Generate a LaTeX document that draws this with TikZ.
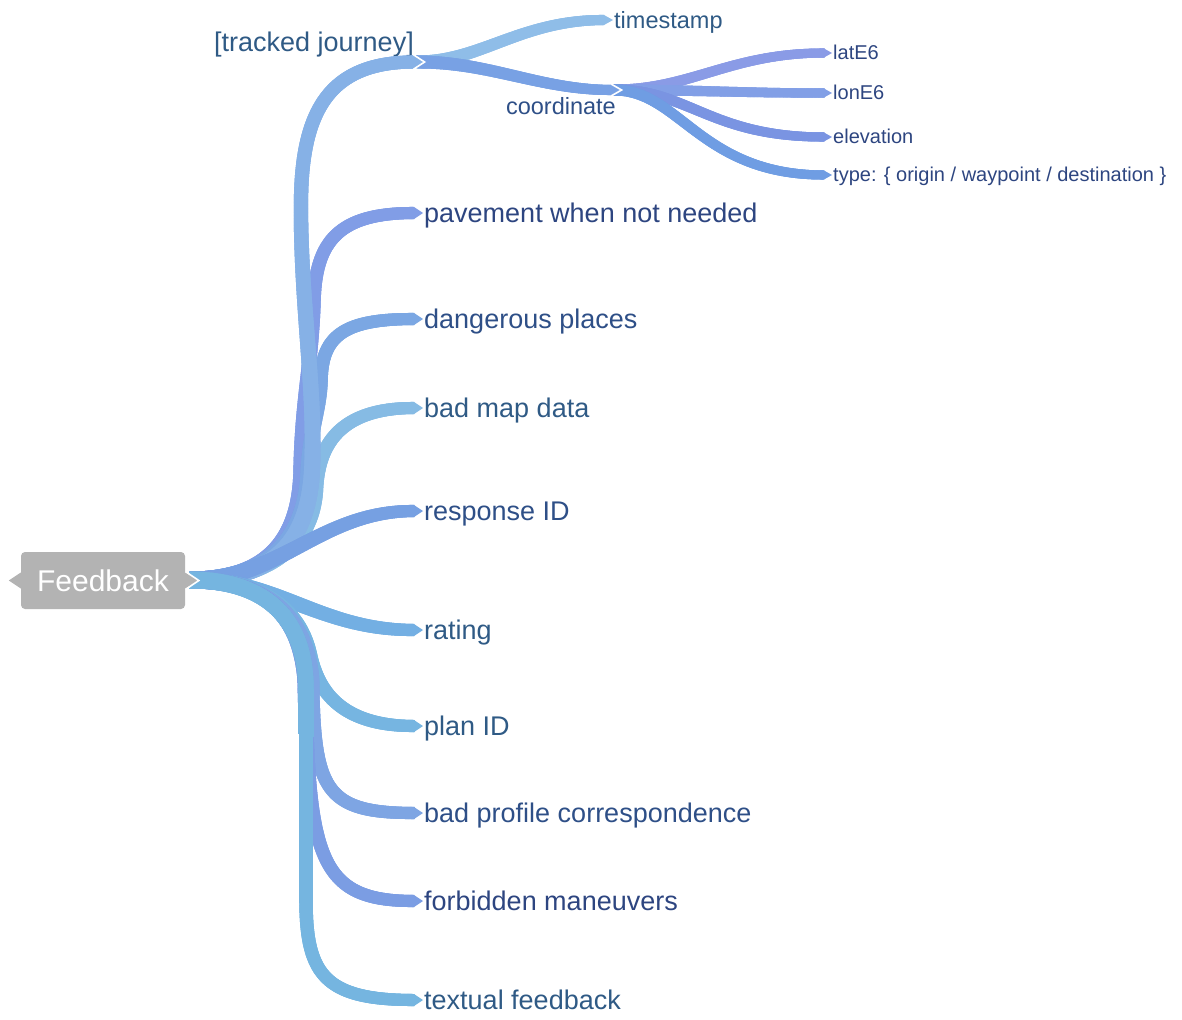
\documentclass[tikz,border=0pt]{standalone}
\usepackage{fontspec}
\setmainfont{Liberation Sans}
\usetikzlibrary{decorations.markings}
\definecolor{cFB}{HTML}{B3B3B3}
\definecolor{cTJ}{HTML}{86B1E6}
\definecolor{cPV}{HTML}{819DE6}
\definecolor{cDP}{HTML}{7BA7E3}
\definecolor{cBM}{HTML}{86BBE4}
\definecolor{cRI}{HTML}{76A0E2}
\definecolor{cRT}{HTML}{73AFE3}
\definecolor{cPI}{HTML}{76B5E1}
\definecolor{cBP}{HTML}{7EA5E3}
\definecolor{cFM}{HTML}{7B9DE3}
\definecolor{cTF}{HTML}{75B5E0}
\definecolor{cTS}{HTML}{8FBDE8}
\definecolor{cCO}{HTML}{78A1E4}
\definecolor{cLA}{HTML}{8A9BE6}
\definecolor{cLO}{HTML}{829FE6}
\definecolor{cEL}{HTML}{7A94E2}
\definecolor{cTY}{HTML}{6F9DE3}
\definecolor{tNavy}{HTML}{2D4580}
\definecolor{tBlue}{HTML}{2E4F87}
\definecolor{tTeal}{HTML}{2F5A85}
\tikzset{
  band/.style n args={3}{draw=#1, line width=#3pt,
    postaction={decorate, decoration={markings,
      mark=between positions 0 and 1 step 0.8pt with {%
        \pgfmathsetmacro\bhw{(#2+(#3-#2)*\pgfkeysvalueof{/pgf/decoration/mark info/distance from start}/\pgfdecoratedpathlength)/2}%
        \fill[#1] (-1pt,-\bhw pt) rectangle (1pt,\bhw pt);}}}},
  lab/.style={anchor=west, inner sep=0pt, font=\fontsize{27}{32}\selectfont, text height=23.7pt, text depth=5.7pt},
  sublab/.style={inner sep=0pt, font=\fontsize{23.5}{28}\selectfont, text height=21.2pt, text depth=4.9pt},
  leaflab/.style={anchor=west, inner sep=0pt, font=\fontsize{20}{24}\selectfont, text height=16.6pt, text depth=4.2pt, text=tNavy},
  fbox/.style={fill=cFB, rounded corners=4pt, minimum width=164pt, minimum height=57pt, inner sep=0pt, text=white, font=\fontsize{30}{36}\selectfont}
}
% tip: colour, apex anchor, length, half width
\newcommand\bandtip[4]{\fill[#1] ([shift={(-#3,-#4)}]#2) -- ([xshift=-1pt]#2) -- ([shift={(-#3,#4)}]#2) -- cycle;}
\newcommand\jointip[4]{\fill[#1] ([shift={(-#3,-#4)}]#2) -- (#2) -- ([shift={(-#3,#4)}]#2) -- cycle;
  \draw[white, line width=1.6pt] ([shift={(-#3-0.6,-#4-0.8)}]#2) -- ([xshift=0.6pt]#2) -- ([shift={(-#3-0.6,#4+0.8)}]#2);}
\begin{document}
\begin{tikzpicture}[x=1pt,y=-1pt]
\useasboundingbox (0,0) rectangle (1182,1019);
% labels
\node[lab, text=tNavy] (pave) at (424,213) {pavement when not needed};
\node[lab, text=tBlue] (dang) at (424,319) {dangerous places};
\node[lab, text=tTeal] (bmap) at (424,408) {bad map data};
\node[lab, text=tBlue] (resp) at (424,511) {response ID};
\node[lab, text=tTeal] (rate) at (424,630) {rating};
\node[lab, text=tTeal] (plan) at (424,726) {plan ID};
\node[lab, text=tBlue] (bprof) at (424,813) {bad profile correspondence};
\node[lab, text=tNavy] (forb) at (424,901) {forbidden maneuvers};
\node[lab, text=tTeal] (text) at (424,1000) {textual feedback};
\node[lab, anchor=base east, text=tTeal] (tjl) at (414,52) {[tracked journey]};
\node[sublab, anchor=west, text=tTeal] (ts) at (614,20) {timestamp};
\node[sublab, anchor=base east, text=tBlue] (col) at (616,115) {coordinate};
\node[leaflab] (lat) at (833,53) {latE6};
\node[leaflab] (lon) at (833,93) {lonE6};
\node[leaflab] (ele) at (833,137) {elevation};
\node[leaflab] (typ) at (833,175) {type: \{ origin / waypoint / destination \}};
% junction points
\coordinate (root) at (190,580);
\coordinate (tj) at (424,62);
\coordinate (tjs) at (417,62);
\coordinate (cj) at (621,90);
\coordinate (cjs) at (614,90);
% coordinate leaves
\path[band={cLA}{11}{9}] (cjs) .. controls (690,90) and (730,53) .. ([xshift=-9pt]lat.west);
\path[band={cLO}{11}{9}] (cjs) .. controls (700,90) and (740,93) .. ([xshift=-9pt]lon.west);
\path[band={cEL}{11}{9}] (cjs) .. controls (690,90) and (710,137) .. ([xshift=-9pt]ele.west);
\path[band={cTY}{11}{9}] (cjs) .. controls (680,90) and (700,175) .. ([xshift=-9pt]typ.west);
\bandtip{cLA}{lat.west}{9}{4.5}
\bandtip{cLO}{lon.west}{9}{4.5}
\bandtip{cEL}{ele.west}{9}{4.5}
\bandtip{cTY}{typ.west}{9}{4.5}
% tracked journey children
\path[band={cTS}{13}{10}] (tjs) .. controls (480,62) and (520,20) .. ([xshift=-10pt]ts.west);
\bandtip{cTS}{ts.west}{10}{5}
\path[band={cCO}{13}{10}] (tjs) .. controls (490,62) and (540,90) .. ([xshift=-9pt]cj);
\jointip{cCO}{cj}{9}{5}
% main branches
\path[band={cPV}{17}{12}] (root) .. controls (262,580) and (300,545) .. (301,470) .. controls (302,400) and (312,360) .. (314,300) .. controls (316,240) and (340,213) .. ([xshift=-10pt]pave.west);
\path[band={cDP}{17}{12}] (root) .. controls (262,580) and (306,545) .. (308,470) .. controls (310,430) and (320,410) .. (321,380) .. controls (322,335) and (345,319) .. ([xshift=-10pt]dang.west);
\path[band={cBM}{17}{12}] (root) .. controls (262,580) and (312,550) .. (316,490) .. controls (318,450) and (335,408) .. ([xshift=-10pt]bmap.west);
\path[band={cTJ}{17}{13}] (root) .. controls (265,580) and (308,550) .. (312,470) .. controls (316,390) and (300,300) .. (301,200) .. controls (302,110) and (330,62) .. ([xshift=-10pt]tj);
\path[band={cRI}{17}{12}] (root) .. controls (280,580) and (320,511) .. ([xshift=-10pt]resp.west);
\path[band={cRT}{17}{12}] (root) .. controls (280,580) and (320,630) .. ([xshift=-10pt]rate.west);
\path[band={cPI}{17}{12}] (root) .. controls (262,580) and (300,610) .. (310,655) .. controls (318,690) and (340,726) .. ([xshift=-10pt]plan.west);
\path[band={cBP}{17}{12}] (root) .. controls (262,580) and (306,612) .. (312,680) .. controls (314,790) and (325,813) .. ([xshift=-10pt]bprof.west);
\path[band={cFM}{17}{12}] (root) .. controls (262,580) and (300,612) .. (305,680) .. controls (308,860) and (320,901) .. ([xshift=-10pt]forb.west);
\path[band={cTF}{17}{12}] (root) .. controls (262,580) and (306,615) .. (306,690) -- (306,900) .. controls (306,975) and (325,1000) .. ([xshift=-10pt]text.west);
\bandtip{cPV}{pave.west}{10}{6}
\bandtip{cDP}{dang.west}{10}{6}
\bandtip{cBM}{bmap.west}{10}{6}
\bandtip{cRI}{resp.west}{10}{6}
\bandtip{cRT}{rate.west}{10}{6}
\bandtip{cPI}{plan.west}{10}{6}
\bandtip{cBP}{bprof.west}{10}{6}
\bandtip{cFM}{forb.west}{10}{6}
\bandtip{cTF}{text.west}{10}{6}
\jointip{cTJ}{tj}{10}{6.5}
% root node
\node[fbox] (fb) at (103,580.5) {Feedback};
\fill[cFB] ([yshift=8pt]fb.west) -- ([xshift=-12pt]fb.west) -- ([yshift=-8pt]fb.west) -- cycle;
\fill[cFB] ([yshift=8pt]fb.east) -- ([xshift=13pt]fb.east) -- ([yshift=-8pt]fb.east) -- cycle;
\draw[white, line width=1.6pt] ([shift={(0.6,-8.8)}]fb.east) -- ([xshift=13.6pt]fb.east) -- ([shift={(0.6,8.8)}]fb.east);
\end{tikzpicture}
\end{document}
